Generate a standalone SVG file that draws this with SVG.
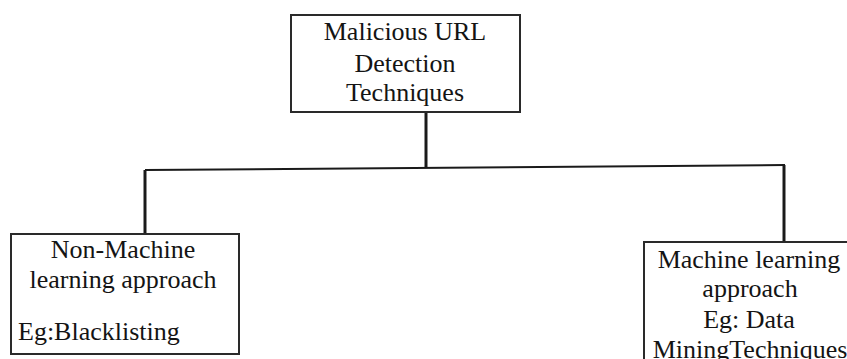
<svg xmlns="http://www.w3.org/2000/svg" width="847" height="359" viewBox="0 0 847 359">
<style>
.box{fill:#fff;stroke:#2a2a2a;stroke-width:2}
.t{font-family:'Liberation Serif','DejaVu Serif',serif;font-size:26px;fill:#141414;text-anchor:middle}
.tl{font-family:'Liberation Serif','DejaVu Serif',serif;font-size:26px;fill:#141414}
.c{fill:none;stroke:#1a1a1a;stroke-width:3}
.h{fill:none;stroke:#1a1a1a;stroke-width:2}
</style>
<rect width="847" height="359" fill="#fff"/>
<g id="connectors">
<line class="c" x1="426" y1="112" x2="426" y2="168"/>
<path class="h" d="M145,170 L785,165"/>
<line class="c" x1="145" y1="170" x2="145" y2="234"/>
<line class="c" x1="784" y1="165" x2="784" y2="242"/>
</g>
<g id="root">
<rect class="box" x="291" y="15" width="229" height="97"/>
<text class="t" x="405" y="40">Malicious URL</text>
<text class="t" x="405" y="72">Detection</text>
<text class="t" x="405" y="101">Techniques</text>
</g>
<g id="non-ml">
<rect class="box" x="11" y="234" width="228" height="120"/>
<text class="t" x="123" y="258">Non-Machine</text>
<text class="t" x="123" y="288">learning approach</text>
<text class="tl" x="18" y="340">Eg:Blacklisting</text>
</g>
<g id="ml">
<rect class="box" x="644" y="242" width="220" height="130"/>
<text class="t" x="749" y="268">Machine learning</text>
<text class="t" x="750" y="297">approach</text>
<text class="t" x="749" y="328">Eg: Data</text>
<text class="t" x="750" y="358">MiningTechniques</text>
</g>
</svg>
